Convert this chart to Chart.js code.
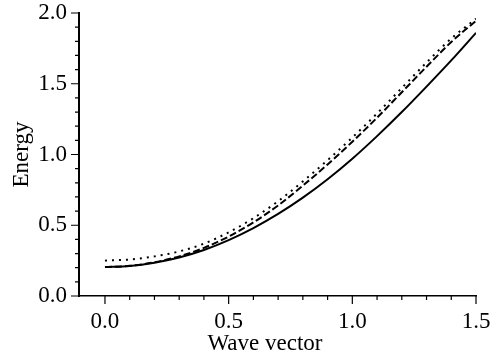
<!DOCTYPE html>
<html>
<head>
<meta charset="utf-8">
<script src="https://cdn.jsdelivr.net/npm/chart.js@4"></script>
<style>
  html, body { margin: 0; padding: 0; background: #fff; }
  canvas { display: block; }
</style>
</head>
<body>
<canvas id="chart-dispersion" width="492" height="357"></canvas>
<script>
// ─── DATA ────────────────────────────────────────────────────
var waveVector = [0.0, 0.1, 0.2, 0.3, 0.4, 0.5, 0.6, 0.7, 0.8, 0.9, 1.0, 1.1, 1.2, 1.3, 1.4, 1.5];
var energySolid  = [0.205, 0.212, 0.235, 0.272, 0.325, 0.395, 0.48, 0.58, 0.695, 0.825, 0.97, 1.13, 1.30, 1.48, 1.665, 1.86];
var energyDashed = [0.205, 0.213, 0.238, 0.28, 0.34, 0.42, 0.52, 0.64, 0.78, 0.93, 1.09, 1.26, 1.44, 1.62, 1.795, 1.945];
var energyDotted = [0.25, 0.258, 0.28, 0.315, 0.37, 0.45, 0.55, 0.67, 0.81, 0.96, 1.12, 1.29, 1.47, 1.65, 1.82, 1.96];

var xMajorTicks = [0.0, 0.5, 1.0, 1.5];
var yMajorTicks = [0.0, 0.5, 1.0, 1.5, 2.0];
var xMinorTicks = [0.1, 0.2, 0.3, 0.4, 0.6, 0.7, 0.8, 0.9, 1.1, 1.2, 1.3, 1.4];
var yMinorTicks = [0.1, 0.2, 0.3, 0.4, 0.6, 0.7, 0.8, 0.9, 1.1, 1.2, 1.3, 1.4, 1.6, 1.7, 1.8, 1.9];

var xTitle = 'Wave vector';
var yTitle = 'Energy';

function pairs(ys) {
  return waveVector.map(function(x, i) { return { x: x, y: ys[i] }; });
}

function curve(label, ys, dash) {
  return {
    label: label,
    data: pairs(ys),
    borderColor: '#000',
    borderWidth: 2,
    borderDash: dash,
    pointRadius: 0,
    fill: false,
    cubicInterpolationMode: 'monotone'
  };
}

// tick marks (major long, minor short) drawn outside the axes, plus axis titles
var tickMarks = {
  id: 'tickMarks',
  afterDraw: function(chart) {
    var c = chart.ctx, xs = chart.scales.x, ys = chart.scales.y;
    var bottom = chart.chartArea.bottom, left = chart.chartArea.left;
    c.save();
    c.strokeStyle = '#000';
    c.lineWidth = 1.2;
    c.beginPath();
    xMajorTicks.forEach(function(v) { var p = xs.getPixelForValue(v); c.moveTo(p, bottom); c.lineTo(p, bottom + 8); });
    xMinorTicks.forEach(function(v) { var p = xs.getPixelForValue(v); c.moveTo(p, bottom); c.lineTo(p, bottom + 4); });
    yMajorTicks.forEach(function(v) { var p = ys.getPixelForValue(v); c.moveTo(left, p); c.lineTo(left - 8, p); });
    yMinorTicks.forEach(function(v) { var p = ys.getPixelForValue(v); c.moveTo(left, p); c.lineTo(left - 4, p); });
    c.stroke();

    c.fillStyle = '#000';
    c.font = '23px "Liberation Serif", serif';
    c.textAlign = 'center';
    c.textBaseline = 'alphabetic';
    c.fillText(xTitle, 265, 350);
    c.translate(28, (chart.chartArea.top + bottom) / 2);
    c.rotate(-Math.PI / 2);
    c.fillText(yTitle, 0, 0);
    c.restore();
  }
};

Chart.defaults.font.family = '"Liberation Serif", serif';
Chart.defaults.font.size = 23;
Chart.defaults.color = '#000';

new Chart(document.getElementById('chart-dispersion'), {
  type: 'line',
  data: {
    datasets: [
      curve('solid', energySolid, []),
      curve('dashed', energyDashed, [7, 3]),
      curve('dotted', energyDotted, [2, 5])
    ]
  },
  plugins: [tickMarks],
  options: {
    responsive: false,
    animation: false,
    layout: { padding: { left: 0, top: 13, right: 16, bottom: 0 } },
    plugins: { legend: { display: false }, tooltip: { enabled: false } },
    scales: {
      x: {
        type: 'linear',
        min: -0.105,
        max: 1.5,
        afterBuildTicks: function(s) { s.ticks = xMajorTicks.map(function(v) { return { value: v }; }); },
        afterFit: function(s) { s.height = 61; s.paddingLeft = 0; s.paddingRight = 0; },
        grid: { display: false, drawTicks: false },
        border: { display: true, color: '#000', width: 1.5 },
        ticks: {
          padding: 12,
          maxRotation: 0,
          autoSkip: false,
          callback: function(v) { return v.toFixed(1); }
        }
      },
      y: {
        type: 'linear',
        min: 0,
        max: 2,
        afterBuildTicks: function(s) { s.ticks = yMajorTicks.map(function(v) { return { value: v }; }); },
        afterFit: function(s) { s.width = 79; s.paddingTop = 0; s.paddingBottom = 0; },
        grid: { display: false, drawTicks: false },
        border: { display: true, color: '#000', width: 2 },
        ticks: {
          padding: 12,
          autoSkip: false,
          callback: function(v) { return v.toFixed(1); }
        }
      }
    }
  }
});
</script>
</body>
</html>
